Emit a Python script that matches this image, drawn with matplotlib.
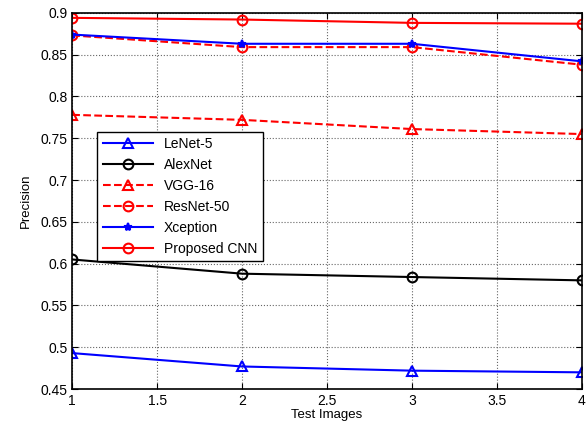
import numpy as np
import matplotlib.pyplot as plt

plt.rcParams['font.family'] = ['Liberation Sans', 'DejaVu Sans']

x = [1, 2, 3, 4]
lenet = [0.493, 0.477, 0.472, 0.470]
alexnet = [0.605, 0.588, 0.584, 0.580]
vgg = [0.778, 0.772, 0.761, 0.755]
resnet = [0.873, 0.859, 0.859, 0.838]
xception = [0.874, 0.863, 0.863, 0.842]
proposed = [0.894, 0.892, 0.888, 0.887]

fig = plt.figure(figsize=(5.87, 4.28), dpi=100)
ax = fig.add_axes([0.123, 0.091, 0.868, 0.879])

ax.plot(x, lenet, 'b-^', lw=1.5, ms=7, mfc='none', mew=1.5, label='LeNet-5')
ax.plot(x, alexnet, 'k-o', lw=1.5, ms=7, mfc='none', mew=1.5, label='AlexNet')
ax.plot(x, vgg, 'r--^', lw=1.5, ms=7, mfc='none', mew=1.5, label='VGG-16')
ax.plot(x, resnet, 'r--o', lw=1.5, ms=7, mfc='none', mew=1.5, label='ResNet-50')
ax.plot(x, xception, 'b-*', lw=1.5, ms=6, mew=1.5, label='Xception')
ax.plot(x, proposed, 'r-o', lw=1.5, ms=7, mfc='none', mew=1.5, label='Proposed CNN')

ax.set_xlim(1, 4)
ax.set_ylim(0.45, 0.9)
ax.set_xticks([1, 1.5, 2, 2.5, 3, 3.5, 4])
ax.set_xticklabels(['1', '1.5', '2', '2.5', '3', '3.5', '4'])
ax.set_yticks(np.arange(0.45, 0.901, 0.05))
ax.set_yticklabels(['0.45', '0.5', '0.55', '0.6', '0.65', '0.7', '0.75', '0.8', '0.85', '0.9'])
ax.tick_params(direction='in', top=True, right=True, labelsize=10, length=4)
ax.grid(True, ls=':', color='0.4', lw=0.8)
ax.set_xlabel('Test Images', fontsize=9.5, labelpad=1)
ax.set_ylabel('Precision', fontsize=9.5, labelpad=6)
for s in ax.spines.values():
    s.set_linewidth(1.2)

leg = ax.legend(loc='upper left', bbox_to_anchor=(0.036, 0.703), fontsize=10,
                fancybox=False, edgecolor='k', framealpha=1, handlelength=3.6,
                borderpad=0.4, labelspacing=0.5)
leg.get_frame().set_linewidth(1.0)

fig.savefig('out.png', dpi=100)
